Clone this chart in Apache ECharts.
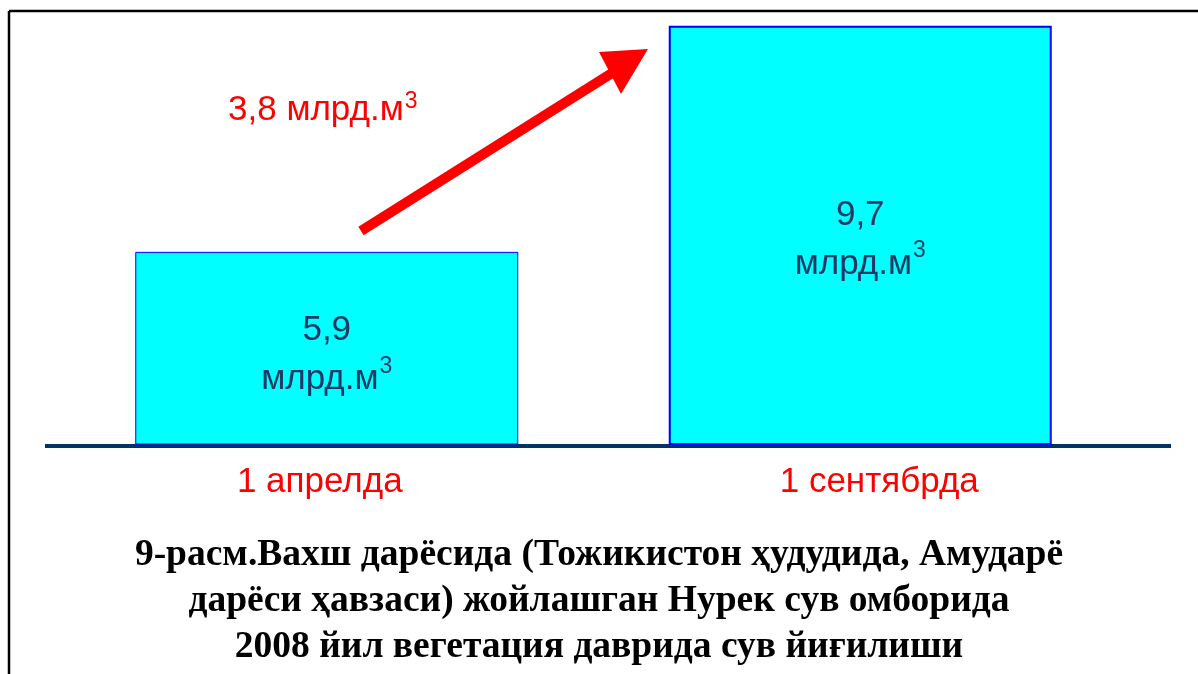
<!DOCTYPE html>
<html><head><meta charset="utf-8">
<script src="https://cdn.jsdelivr.net/npm/echarts@6/dist/echarts.min.js"></script>
<style>html,body{margin:0;padding:0;background:#fff}#c{width:1198px;height:674px}</style>
</head><body><div id="c"></div>
<script>
const categories = ['1 апрелда', '1 сентябрда'];
const values = [5.9, 9.7];
const unitText = 'млрд.м';
const increaseText = '3,8 млрд.м';
const captionLines = [
  '9-расм.Вахш дарёсида (Тожикистон ҳудудида, Амударё',
  'дарёси ҳавзаси) жойлашган Нурек сув омборида',
  '2008 йил вегетация даврида сув йиғилиши'
];

const chart = echarts.init(document.getElementById('c'), null, {renderer: 'canvas'});
const sansFont = '"Liberation Sans", Arial, sans-serif';
const serifFont = '"Liberation Serif", "Times New Roman", serif';

const labelPads = [[0, 14, 0, 0], [0, 0, 0, 38]];
const labelShift = [[0, 7], [0, 4]];

chart.setOption({
  animation: false,
  backgroundColor: '#ffffff',
  title: {
    text: captionLines.join('\n'),
    left: 'center',
    top: 527,
    textStyle: {fontFamily: serifFont, fontWeight: 'bold', fontSize: 37.5, lineHeight: 46, color: '#000'}
  },
  grid: {left: 60, right: 71, top: 8, bottom: 230},
  xAxis: {
    type: 'category',
    data: categories.map((c, i) => ({value: c, textStyle: {padding: labelPads[i]}})),
    axisLine: {show: false},
    axisTick: {show: false},
    axisLabel: {fontFamily: sansFont, fontSize: 35, lineHeight: 35, color: '#ff0000', margin: 21}
  },
  yAxis: {
    type: 'value', min: 2.67, max: 10,
    show: false
  },
  series: [{
    type: 'bar',
    barWidth: 383,
    data: values.map((v, i) => ({value: v, itemStyle: {borderWidth: i === 0 ? 1 : 2}, label: {offset: labelShift[i]}})),
    itemStyle: {color: '#00ffff', borderColor: '#0000ff', borderWidth: 1},
    label: {
      show: true,
      position: 'inside',
      formatter: p => '{a|' + String(p.value).replace('.', ',') + '}\n{a|' + unitText + '}{s|3}',
      rich: {
        a: {fontFamily: sansFont, fontSize: 35, lineHeight: 49, color: '#1b3a66'},
        s: {fontFamily: sansFont, fontSize: 23, lineHeight: 49, color: '#1b3a66', verticalAlign: 'top', padding: [0, 0, 0, 1]}
      }
    }
  }],
  graphic: [
    {type: 'line', shape: {x1: 9, y1: 11, x2: 1198, y2: 11}, style: {stroke: '#000', lineWidth: 2.5}},
    {type: 'line', shape: {x1: 9, y1: 11, x2: 9, y2: 674}, style: {stroke: '#000', lineWidth: 2.5}},
    {type: 'line', shape: {x1: 45, y1: 446, x2: 1171, y2: 446}, style: {stroke: '#003366', lineWidth: 4}},
    {type: 'line', shape: {x1: 361, y1: 231, x2: 620, y2: 68}, style: {stroke: '#ff0000', lineWidth: 10}},
    {type: 'polygon', shape: {points: [[648, 49], [599, 52], [621, 94]]}, style: {fill: '#ff0000'}},
    {type: 'text', left: 228, top: 90,
     style: {text: '{a|' + increaseText + '}{s|3}',
       rich: {
         a: {fontFamily: sansFont, fontSize: 35, lineHeight: 40, fill: '#ff0000'},
         s: {fontFamily: sansFont, fontSize: 23, lineHeight: 40, fill: '#ff0000', verticalAlign: 'top', padding: [0, 0, 0, 1]}
       }}}
  ]
});
</script></body></html>
